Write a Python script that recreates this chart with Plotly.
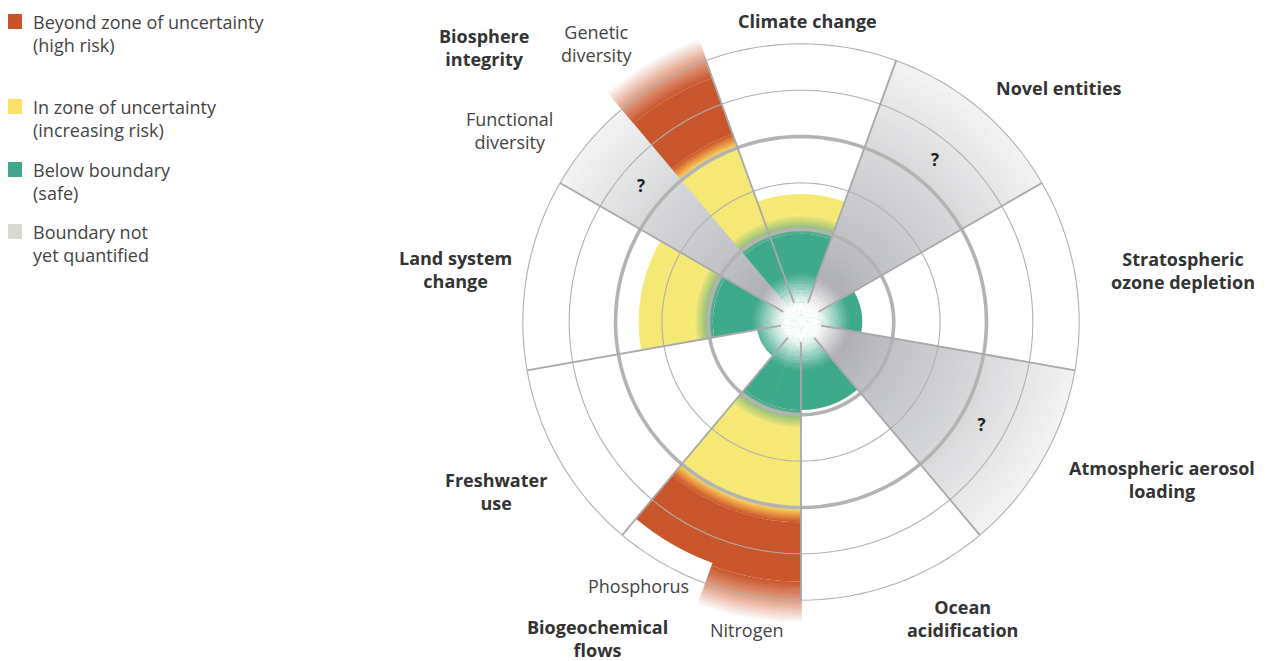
import plotly.graph_objects as go

# ---------------- data ----------------
boundary_names = ["Climate change", "Novel entities", "Stratospheric ozone depletion",
                  "Atmospheric aerosol loading", "Ocean acidification", "Biogeochemical flows",
                  "Freshwater use", "Land system change", "Biosphere integrity"]

# segments drawn in the wheel (a boundary may be split into two control variables)
segment_names = ["Climate change", "Novel entities", "Stratospheric ozone depletion",
                 "Atmospheric aerosol loading", "Ocean acidification", "Nitrogen", "Phosphorus",
                 "Freshwater use", "Land system change", "Functional diversity", "Genetic diversity"]
segment_boundary = [0, 1, 2, 3, 4, 5, 5, 6, 7, 8, 8]
segment_slot = [0, 0, 0, 0, 0, 0, 1, 0, 0, 0, 1]
segment_slots = [1, 1, 1, 1, 1, 2, 2, 1, 1, 2, 2]
# value relative to the boundary (1 = boundary, 2 = end of zone of uncertainty); None = not quantified
segment_values = [1.38, None, 0.66, None, 0.95, 3.25, 2.77, 0.48, 1.75, None, 3.25]

ring_values = [1, 1.5, 2, 2.5, 3]
bold_rings = [1, 2]

legend_labels = ["Beyond zone of uncertainty<br>(high risk)",
                 "In zone of uncertainty<br>(increasing risk)",
                 "Below boundary<br>(safe)",
                 "Boundary not<br>yet quantified"]
legend_colors = ["#c8532b", "#fde16a", "#3fa68a", "#d9d9cf"]

# ---------------- style ----------------
GREEN = "#3fa98b"
YELLOW = "#f6e874"
ORANGE = "#eea347"
RED = "#c9552b"
GRAY_STOPS = [(0.0, "#a4a5a9"), (0.5, "#aeafb3"), (1.0, "#c0c1c4"), (2.0, "#d7d8da"), (3.0, "#f3f3f4")]

OFF = 8                      # page body margin of the html page
W, H = 1269 - OFF, 661 - OFF
CX, CY, RPX = 801 - OFF, 322 - OFF, 306
RMAX = 3.3
N = len(boundary_names)
SECTOR = 360 / N


def hex2rgb(h):
    h = h.lstrip("#")
    return tuple(int(h[i:i + 2], 16) for i in (0, 2, 4))


def interp(stops, x):
    if x <= stops[0][0]:
        return hex2rgb(stops[0][1])
    for (a, ca), (b, cb) in zip(stops[:-1], stops[1:]):
        if x <= b:
            t = (x - a) / (b - a) if b > a else 0
            c1, c2 = hex2rgb(ca), hex2rgb(cb)
            return tuple(c1[i] + (c2[i] - c1[i]) * t for i in range(3))
    return hex2rgb(stops[-1][1])


bt, bw, bb, br, bc = [], [], [], [], []


def band(theta, width, r0, r1, stops, step=0.012):
    if r1 <= r0:
        return
    n = max(1, int(round((r1 - r0) / step))) if len(stops) > 1 else 1
    for i in range(n):
        a = r0 + (r1 - r0) * i / n
        b = r0 + (r1 - r0) * (i + 1) / n
        x = stops[0][0] + (stops[-1][0] - stops[0][0]) * (i + 0.5) / n if len(stops) > 1 else 0
        c = interp(stops, x)
        extra = 0.008 if i < n - 1 else 0
        bt.append(theta)
        bw.append(width)
        bb.append(a)
        br.append(b - a + extra)
        bc.append("rgb(%d,%d,%d)" % tuple(int(round(v)) for v in c))


q_theta = []
for k in range(len(segment_names)):
    w = SECTOR / segment_slots[k]
    theta = SECTOR * segment_boundary[k] - SECTOR / 2 + w * (segment_slot[k] + 0.5)
    width = w + 0.3
    v = segment_values[k]
    if v is None:
        band(theta, width, 0, 3, GRAY_STOPS, step=0.02)
        q_theta.append(theta)
        continue
    band(theta, width, 0, min(v, 0.95), [(0, GREEN)])
    if v > 0.95:
        band(theta, width, 0.95, min(v, 1.15), [(0.95, GREEN), (1.03, "#9cc47c"), (1.15, YELLOW)])
    if v > 1.15:
        band(theta, width, 1.15, min(v, 2.0), [(0, YELLOW)])
    if v > 2.0:
        band(theta, width, 2.0, min(v, 2.16), [(2.0, YELLOW), (2.07, ORANGE), (2.16, RED)])
    if v > 2.16:
        end_solid = v if v <= 3 else v - 0.45
        band(theta, width, 2.16, end_solid, [(0, RED)])
        if v > 3:
            band(theta, width, end_solid, v, [(0, RED), (0.5, "#e3a58d"), (1, "#ffffff")])

fig = go.Figure()

fig.add_trace(go.Barpolar(theta=bt, width=bw, base=bb, r=br,
                          marker=dict(color=bc, line=dict(width=0)),
                          hoverinfo="skip", showlegend=False))

# central glow (white rings, fading outward)
gb, gr, gc = [], [], []
steps = 55
for i in range(steps):
    a = 0.55 * i / steps
    mid = a + 0.275 / steps
    alpha = 1.0 if mid < 0.18 else max(0.0, 1 - (mid - 0.18) / 0.36) ** 1.3
    gb.append(a)
    gr.append(0.55 / steps + 0.004)
    gc.append("rgba(255,255,255,%.3f)" % alpha)
fig.add_trace(go.Barpolar(theta=[0] * steps, width=[360] * steps, base=gb, r=gr,
                          marker=dict(color=gc, line=dict(width=0)),
                          hoverinfo="skip", showlegend=False))

# ring circles
circle_theta = list(range(0, 361, 2))
for rv in ring_values:
    bold = rv in bold_rings
    fig.add_trace(go.Scatterpolar(r=[rv] * len(circle_theta), theta=circle_theta, mode="lines",
                                  line=dict(color="#b3b3b3" if bold else "#b0b0b0",
                                            width=3.6 if bold else 1.1),
                                  hoverinfo="skip", showlegend=False))

# radial sector lines
lr, lt = [], []
for i in range(N):
    ang = SECTOR * i + SECTOR / 2
    lr += [0.22, ring_values[-1], None]
    lt += [ang, ang, None]
fig.add_trace(go.Scatterpolar(r=lr, theta=lt, mode="lines",
                              line=dict(color="#a9a9a9", width=1.8),
                              hoverinfo="skip", showlegend=False))

# question marks
fig.add_trace(go.Scatterpolar(r=[2.25] * len(q_theta), theta=q_theta, mode="text",
                              text=["<b>?</b>"] * len(q_theta),
                              textfont=dict(family="Open Sans", size=17, color="#222222"),
                              hoverinfo="skip", showlegend=False))

fig.update_layout(
    width=W, height=H, margin=dict(l=0, r=0, t=0, b=0),
    paper_bgcolor="white", plot_bgcolor="white",
    showlegend=False,
    polar=dict(
        domain=dict(x=[(CX - RPX) / W, (CX + RPX) / W], y=[1 - (CY + RPX) / H, 1 - (CY - RPX) / H]),
        bgcolor="white",
        barmode="overlay",
        radialaxis=dict(range=[0, RMAX], visible=False, showgrid=False),
        angularaxis=dict(rotation=90, direction="clockwise", showgrid=False, showline=False,
                         showticklabels=False, ticks=""),
    ),
)


def px(x, y):
    return (x - OFF) / W, 1 - (y - OFF) / H


BOLD = dict(family="Open Sans", size=18, color="#333333", weight="bold")
REG = dict(family="Open Sans", size=18, color="#444444")

labels = [
    ("Climate change", 807, 21, BOLD),
    ("Novel entities", 1059, 88, BOLD),
    ("Stratospheric<br>ozone depletion", 1183, 270, BOLD),
    ("Atmospheric aerosol<br>loading", 1162, 480, BOLD),
    ("Ocean<br>acidification", 962, 618, BOLD),
    ("Biogeochemical<br>flows", 597, 638, BOLD),
    ("Nitrogen", 747, 630, REG),
    ("Phosphorus", 638, 586, REG),
    ("Freshwater<br>use", 496, 491, BOLD),
    ("Land system<br>change", 455, 269, BOLD),
    ("Biosphere<br>integrity", 484, 48, BOLD),
    ("Genetic<br>diversity", 597, 43, REG),
    ("Functional<br>diversity", 510, 131, REG),
]
for text, x, y, f in labels:
    ax, ay = px(x, y)
    fig.add_annotation(x=ax, y=ay, xref="paper", yref="paper", text=text, showarrow=False,
                       xanchor="center", yanchor="middle", align="center", font=f)

legend_y = [22, 107, 170, 232]
for lab, col, y in zip(legend_labels, legend_colors, legend_y):
    x0, y0 = px(7, y - 8)
    x1, y1 = px(22, y + 7)
    fig.add_shape(type="rect", xref="paper", yref="paper", x0=x0, x1=x1, y0=y1, y1=y0,
                  fillcolor=col, line=dict(width=0))
    ax, ay = px(31, y - 14)
    fig.add_annotation(x=ax, y=ay, xref="paper", yref="paper", text=lab, showarrow=False,
                       xanchor="left", yanchor="top", align="left", font=REG)

fig.write_html("out.html")
